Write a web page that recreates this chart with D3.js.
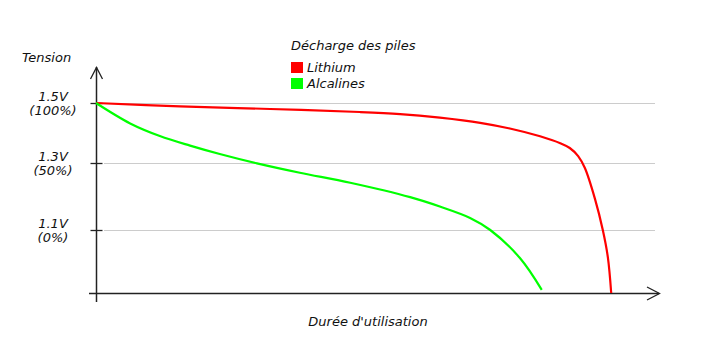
<!DOCTYPE html>
<html>
<head>
<meta charset="utf-8">
<script src="https://cdn.jsdelivr.net/npm/d3@7"></script>
<style>
  body { margin: 0; background: #fff; }
  svg text { font-family: "DejaVu Sans", Verdana, sans-serif; font-style: italic; font-size: 13px; fill: #111; }
</style>
</head>
<body>
<div id="chart"></div>
<script>
// durée (unités arbitraires) / tension (V)
const lithiumT = [0, 15, 31.1, 47.1, 54.3, 61.4, 68.6, 73.9, 79.3, 82.9, 84.6, 86.1, 87.3, 89.1, 90.5, 91.4, 92.0];
const lithiumV = [1.5, 1.489, 1.48, 1.47, 1.463, 1.451, 1.434, 1.415, 1.389, 1.366, 1.35, 1.323, 1.285, 1.193, 1.1, 1.014, 0.9];
const alcalT = [0, 6.1, 11.4, 16.8, 22.1, 28.75, 36.4, 45.4, 56.1, 61.4, 66.8, 70.4, 75.7, 79.6];
const alcalV = [1.5, 1.432, 1.39, 1.358, 1.33, 1.299, 1.271, 1.241, 1.198, 1.17, 1.136, 1.1, 1.011, 0.91];
const tickValues = [1.5, 1.3, 1.1];
const tickVolts = ["1.5V", "1.3V", "1.1V"];
const tickPct = ["(100%)", "(50%)", "(0%)"];
const seriesNames = ["Lithium", "Alcalines"];
const seriesColors = ["#ff0000", "#00ff00"];

const width = 703, height = 342;

const svg = d3.select("#chart").append("svg")
  .attr("width", width)
  .attr("height", height);

const x = d3.scaleLinear().domain([0, 100]).range([96, 656]);
// l'échelle verticale n'est pas régulière sur la figure
const y = d3.scaleLinear().domain([0.9, 1.1, 1.3, 1.5]).range([293, 230, 163, 103]);

// grille
svg.append("g")
  .selectAll("line")
  .data(tickValues)
  .enter().append("line")
  .attr("x1", 104)
  .attr("x2", 655)
  .attr("y1", d => y(d) + 0.5)
  .attr("y2", d => y(d) + 0.5)
  .attr("stroke", "#cccccc")
  .attr("stroke-width", 1);

// axe vertical
const yAxis = svg.append("g")
  .attr("transform", "translate(96.5,0)")
  .call(d3.axisLeft(y).tickValues(tickValues).tickSize(6).tickFormat(""));
yAxis.select(".domain").remove();
yAxis.selectAll(".tick line")
  .attr("x1", -6).attr("x2", 6)
  .attr("stroke", "#222").attr("stroke-width", 1.3);

const labels = svg.append("g")
  .selectAll("g")
  .data(tickValues)
  .enter().append("g");
labels.append("text")
  .attr("text-anchor", "middle")
  .attr("x", 53)
  .attr("y", d => y(d) - 2)
  .text((d, i) => tickVolts[i]);
labels.append("text")
  .attr("text-anchor", "middle")
  .attr("x", 53)
  .attr("y", d => y(d) + 12)
  .text((d, i) => tickPct[i]);

const axisColor = "#222";
svg.append("line")
  .attr("x1", 96.5).attr("x2", 96.5)
  .attr("y1", 67).attr("y2", 302)
  .attr("stroke", axisColor).attr("stroke-width", 1.5);
svg.append("path")
  .attr("d", "M90.5,79L96.5,67.5L102.5,79")
  .attr("fill", "none").attr("stroke", axisColor).attr("stroke-width", 1.3);

svg.append("line")
  .attr("x1", 89).attr("x2", 659)
  .attr("y1", 293.5).attr("y2", 293.5)
  .attr("stroke", axisColor).attr("stroke-width", 1.5);
svg.append("path")
  .attr("d", "M647,287L659.5,293.5L647,300")
  .attr("fill", "none").attr("stroke", axisColor).attr("stroke-width", 1.3);

// courbes
const line = d3.line()
  .x(d => x(d[0]))
  .y(d => y(d[1]))
  .curve(d3.curveCatmullRom.alpha(0.5));

const series = [d3.zip(lithiumT, lithiumV), d3.zip(alcalT, alcalV)];

svg.append("g")
  .selectAll("path")
  .data(series)
  .enter().append("path")
  .attr("d", line)
  .attr("fill", "none")
  .attr("stroke", (d, i) => seriesColors[i])
  .attr("stroke-width", 2.2);

// titres
svg.append("text").attr("x", 22).attr("y", 62).text("Tension");
svg.append("text").attr("x", 368).attr("y", 326).attr("text-anchor", "middle").text("Durée d'utilisation");

// légende
const legend = svg.append("g");
legend.append("text").attr("x", 291).attr("y", 50).text("Décharge des piles");
const items = legend.selectAll("g.item")
  .data(seriesNames)
  .enter().append("g")
  .attr("class", "item")
  .attr("transform", (d, i) => `translate(291,${62 + i * 16})`);
items.append("rect")
  .attr("width", 12).attr("height", 11)
  .attr("fill", (d, i) => seriesColors[i]);
items.append("text")
  .attr("x", 16).attr("y", 10)
  .text(d => d);
</script>
</body>
</html>
